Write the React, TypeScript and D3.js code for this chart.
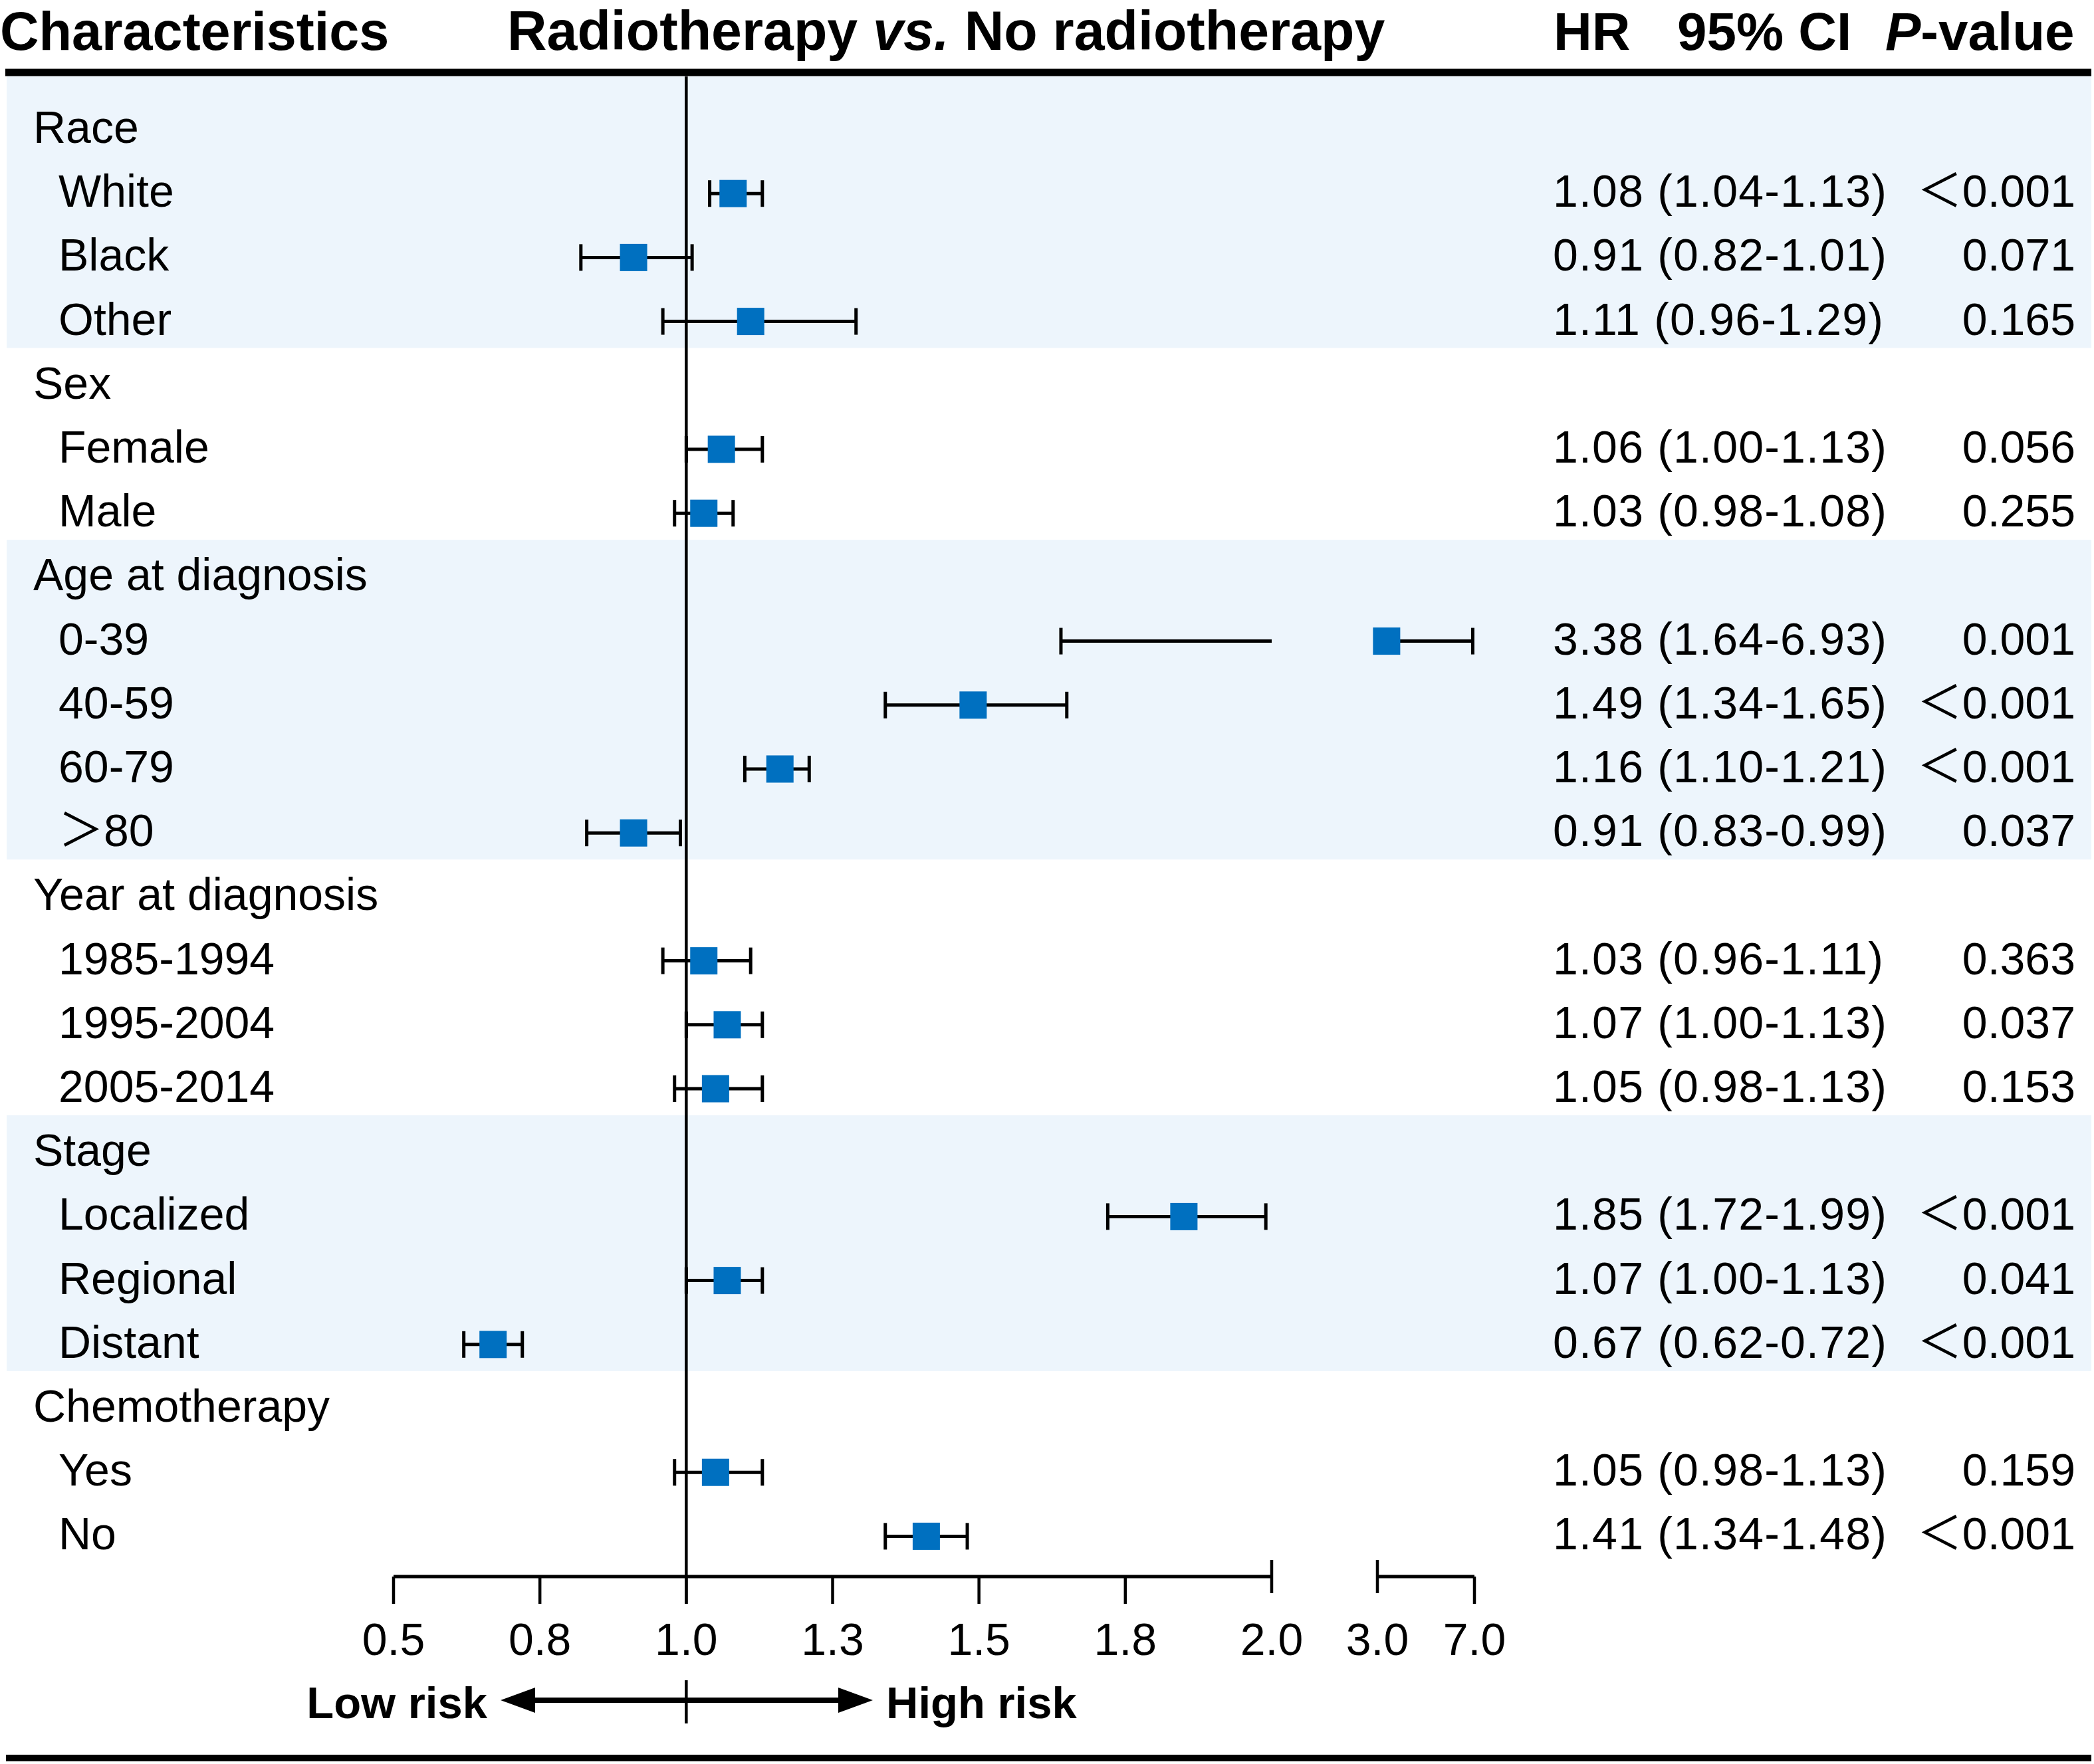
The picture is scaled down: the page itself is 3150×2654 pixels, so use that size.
import * as d3 from 'd3';

const groupNames = ['Race', 'Sex', 'Age at diagnosis', 'Year at diagnosis', 'Stage', 'Chemotherapy'];
const subNames = [
  ['White', 'Black', 'Other'],
  ['Female', 'Male'],
  ['0-39', '40-59', '60-79', '＞80'],
  ['1985-1994', '1995-2004', '2005-2014'],
  ['Localized', 'Regional', 'Distant'],
  ['Yes', 'No'],
];
const hrValues = [[1.08, 0.91, 1.11], [1.06, 1.03], [3.38, 1.49, 1.16, 0.91], [1.03, 1.07, 1.05], [1.85, 1.07, 0.67], [1.05, 1.41]];
const ciLower = [[1.04, 0.82, 0.96], [1.0, 0.98], [1.64, 1.34, 1.1, 0.83], [0.96, 1.0, 0.98], [1.72, 1.0, 0.62], [0.98, 1.34]];
const ciUpper = [[1.13, 1.01, 1.29], [1.13, 1.08], [6.93, 1.65, 1.21, 0.99], [1.11, 1.13, 1.13], [1.99, 1.13, 0.72], [1.13, 1.48]];
const pValues = [
  ['＜0.001', '0.071', '0.165'],
  ['0.056', '0.255'],
  ['0.001', '＜0.001', '＜0.001', '0.037'],
  ['0.363', '0.037', '0.153'],
  ['＜0.001', '0.041', '＜0.001'],
  ['0.159', '＜0.001'],
];
const shadedGroups = ['Race', 'Age at diagnosis', 'Stage'];
const ticksLow = [0.5, 0.75, 1.0, 1.25, 1.5, 1.75, 2.0];
const ticksHigh = [3.0, 7.0];
const breakLow = 2.0;
const breakHigh = 3.0;

const W = 3150;
const H = 2654;
const FONT = '"Liberation Sans", Arial, sans-serif';
const CJK = '"Noto Sans CJK SC", "Liberation Sans", sans-serif';
const BLUE = '#0070C0';
const BAND = '#EDF5FC';

type Row = {
  label: string;
  group: boolean;
  groupName: string;
  hr?: number;
  lo?: number;
  hi?: number;
  p?: string;
};

function buildRows(): Row[] {
  const rows: Row[] = [];
  groupNames.forEach((g, gi) => {
    rows.push({ label: g, group: true, groupName: g });
    subNames[gi].forEach((s, si) => {
      rows.push({
        label: s,
        group: false,
        groupName: g,
        hr: hrValues[gi][si],
        lo: ciLower[gi][si],
        hi: ciUpper[gi][si],
        p: pValues[gi][si],
      });
    });
  });
  return rows;
}

function CjkText({ s }: { s: string }) {
  // full-width angle brackets come from the CJK font
  if (s.startsWith('＜') || s.startsWith('＞')) {
    return (
      <>
        <tspan fontFamily={CJK}>{s[0]}</tspan>
        <tspan>{s.slice(1)}</tspan>
      </>
    );
  }
  return <>{s}</>;
}

export default function App() {
  const rows = buildRows();

  const xLow = d3.scaleLinear().domain([0.5, breakLow]).range([592, 1913]);
  const xHigh = d3.scaleLinear().domain([breakHigh, 7]).range([2072, 2218]);
  const xPos = (v: number) => (v <= breakLow ? xLow(v) : xHigh(v));
  const yBase = d3.scaleLinear().domain([0, 22]).range([215, 215 + 96.2 * 22]);
  const yMark = (i: number) => yBase(i) - 20;

  const fmt = d3.format('.2f');
  const tickFmt = d3.format('.1f');

  const headerLineY = 109;
  const headerBase = 75;
  const bandTop0 = 115;
  const axisY = 2372;
  const x1 = xLow(1);

  const bands = shadedGroups.map((g) => {
    const idx = rows.map((r, i) => (r.groupName === g ? i : -1)).filter((i) => i >= 0);
    const first = idx[0];
    const last = idx[idx.length - 1];
    const top = first === 0 ? bandTop0 : yBase(first - 1) + 20;
    const bottom = yBase(last) + 20;
    return { g, top, bottom };
  });

  const fs = 68;

  return (
    <div style={{ position: 'absolute', left: 0, top: 0 }}>
      <svg width={W} height={H} style={{ display: 'block' }} fontFamily={FONT}>
        <rect x={0} y={0} width={W} height={H} fill="#fff" />

        {bands.map((b) => (
          <rect key={b.g} x={10} y={b.top} width={3136} height={b.bottom - b.top} fill={BAND} />
        ))}

        {/* header */}
        <g fontWeight="bold" fontSize={80}>
          <text x={0} y={headerBase} fontSize={81}>Characteristics</text>
          <text x={763} y={headerBase} fontSize={82.5}>
            Radiotherapy <tspan fontStyle="italic">vs.</tspan> No radiotherapy
          </text>
          <text x={2337} y={headerBase}>HR</text>
          <text x={2523} y={headerBase}>95% CI</text>
          <text x={2836} y={headerBase}>
            <tspan fontStyle="italic">P</tspan>-value
          </text>
        </g>
        <line x1={8} x2={3146} y1={headerLineY} y2={headerLineY} stroke="#000" strokeWidth={11} />

        {/* reference line */}
        <line x1={x1} x2={x1} y1={bandTop0} y2={2413} stroke="#000" strokeWidth={4.5} />

        {/* rows */}
        {rows.map((r, i) => {
          const yb = yBase(i);
          if (r.group) {
            return (
              <text key={i} x={50} y={yb} fontSize={fs}>
                {r.label}
              </text>
            );
          }
          const lo = r.lo as number;
          const hi = r.hi as number;
          const hr = r.hr as number;
          const segs: [number, number][] =
            lo < breakLow && hi > breakHigh ? [[lo, breakLow], [breakHigh, hi]] : [[lo, hi]];
          const ym = yMark(i);
          return (
            <g key={i}>
              <text x={88} y={yb} fontSize={fs}>
                <CjkText s={r.label} />
              </text>
              {segs.map(([a, b], k) => (
                <line key={k} x1={xPos(a)} x2={xPos(b)} y1={ym} y2={ym} stroke="#000" strokeWidth={5} />
              ))}
              <line x1={xPos(lo)} x2={xPos(lo)} y1={ym - 20} y2={ym + 20} stroke="#000" strokeWidth={5} />
              <line x1={xPos(hi)} x2={xPos(hi)} y1={ym - 20} y2={ym + 20} stroke="#000" strokeWidth={5} />
              <rect x={xPos(hr) - 20.5} y={ym - 20.5} width={41} height={41} fill={BLUE} />
              <text x={2336} y={yb} fontSize={fs} letterSpacing={1.2}>
                {`${fmt(hr)} (${fmt(lo)}-${fmt(hi)})`}
              </text>
              <text x={3122} y={yb} fontSize={fs} textAnchor="end">
                <CjkText s={r.p as string} />
              </text>
            </g>
          );
        })}

        {/* axis */}
        <line x1={xLow(0.5)} x2={xLow(breakLow)} y1={axisY} y2={axisY} stroke="#000" strokeWidth={5} />
        <line x1={xHigh(breakHigh)} x2={xHigh(7)} y1={axisY} y2={axisY} stroke="#000" strokeWidth={5} />
        {ticksLow.map((t) => (
          <line
            key={'l' + t}
            x1={xLow(t)}
            x2={xLow(t)}
            y1={t === breakLow ? axisY - 25 : axisY}
            y2={t === breakLow ? axisY + 25 : axisY + 41}
            stroke="#000"
            strokeWidth={4.5}
          />
        ))}
        {ticksHigh.map((t) => (
          <line
            key={'h' + t}
            x1={xHigh(t)}
            x2={xHigh(t)}
            y1={t === breakHigh ? axisY - 25 : axisY}
            y2={t === breakHigh ? axisY + 25 : axisY + 41}
            stroke="#000"
            strokeWidth={4.5}
          />
        ))}
        <g fontSize={68} textAnchor="middle">
          {ticksLow.map((t) => (
            <text key={'tl' + t} x={xLow(t)} y={2490}>
              {tickFmt(t)}
            </text>
          ))}
          {ticksHigh.map((t) => (
            <text key={'th' + t} x={xHigh(t)} y={2490}>
              {tickFmt(t)}
            </text>
          ))}
        </g>

        {/* risk arrow */}
        <line x1={800} x2={1266} y1={2558} y2={2558} stroke="#000" strokeWidth={8} />
        <path d="M753,2558 L805,2539 L805,2577 Z" fill="#000" />
        <path d="M1313,2558 L1261,2539 L1261,2577 Z" fill="#000" />
        <line x1={x1} x2={x1} y1={2528} y2={2593} stroke="#000" strokeWidth={4.5} />
        <text x={733} y={2585} fontSize={67} fontWeight="bold" textAnchor="end">
          Low risk
        </text>
        <text x={1333} y={2585} fontSize={67} fontWeight="bold">
          High risk
        </text>

        <line x1={9} x2={3146} y1={2645} y2={2645} stroke="#000" strokeWidth={10} />
      </svg>
    </div>
  );
}
